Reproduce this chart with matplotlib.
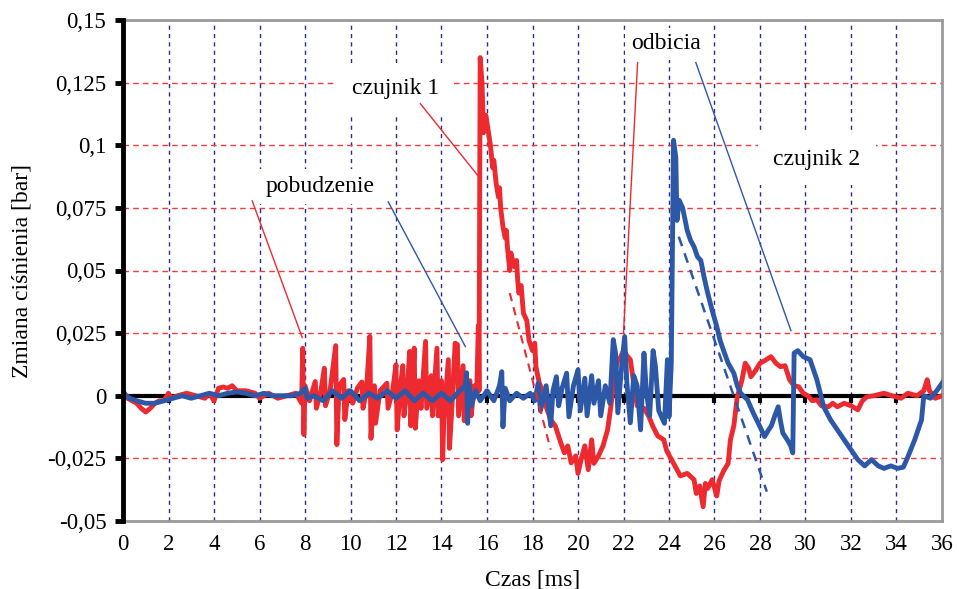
import matplotlib

matplotlib.use("Agg")
import matplotlib.pyplot as plt
from matplotlib.ticker import FixedFormatter, FixedLocator

plt.rcParams["font.family"] = ["Liberation Serif", "DejaVu Serif"]

# czujnik 1 (red)
t_red = [
    0.0, 0.2, 0.4, 0.6, 0.8, 1.0, 1.2, 1.4, 1.6, 1.8, 2.0, 2.1, 2.4, 2.8, 3.2, 3.6,
    3.8, 4.0, 4.2, 4.4, 4.6, 4.8, 5.0, 5.4, 5.8, 6.0, 6.4, 6.8, 7.2, 7.6, 7.85, 7.9,
    7.95, 8.0, 8.2, 8.45, 8.5, 8.7, 8.85, 8.9, 9.1, 9.35, 9.4, 9.5, 9.7, 9.75, 9.9,
    10.1, 10.3, 10.5, 10.55, 10.7, 10.85, 10.9, 11.05, 11.1, 11.3, 11.6, 11.65, 11.85,
    12.0, 12.05, 12.2, 12.3, 12.35, 12.5, 12.6, 12.65, 12.8, 12.85, 13.0, 13.1, 13.3,
    13.35, 13.55, 13.6, 13.8, 13.85, 14.0, 14.05, 14.1, 14.3, 14.35, 14.45, 14.6, 14.7,
    14.75, 14.95, 15.0, 15.15, 15.25, 15.3, 15.45, 15.55, 15.62, 15.65, 15.7, 15.78,
    15.85, 15.95, 16.05, 16.15, 16.25, 16.3, 16.4, 16.5, 16.55, 16.6, 16.7, 16.8, 16.85,
    16.9, 17.0, 17.05, 17.2, 17.3, 17.35, 17.4, 17.5, 17.6, 17.75, 17.85, 18.0, 18.1,
    18.15, 18.3, 18.5, 18.6, 18.8, 19.0, 19.2, 19.4, 19.55, 19.7, 19.9, 20.0, 20.15,
    20.3, 20.45, 20.6, 20.7, 20.9, 21.1, 21.3, 21.45, 21.6, 21.75, 21.85, 22.0, 22.15,
    22.3, 22.45, 22.6, 22.9, 23.1, 23.3, 23.5, 23.77, 23.9, 24.2, 24.5, 24.8, 25.1,
    25.2, 25.35, 25.5, 25.6, 25.7, 25.9, 26.1, 26.2, 26.4, 26.6, 26.7, 26.85, 27.0,
    27.2, 27.35, 27.5, 27.6, 27.8, 28.0, 28.2, 28.48, 28.7, 28.9, 29.1, 29.3, 29.5,
    29.7, 29.9, 30.1, 30.3, 30.5, 30.7, 31.0, 31.2, 31.4, 31.7, 32.0, 32.3, 32.5,
    32.7, 33.0, 33.45, 33.8, 34.2, 34.5, 34.9, 35.2, 35.35, 35.45, 35.7, 36.0,
]
p_red = [
    0.002, -0.001, -0.002, -0.003, -0.005, -0.0065, -0.005, -0.003, -0.002, -0.002,
    0.001, -0.001, 0.0, 0.001, 0.0, -0.001, 0.001, -0.002, 0.003, 0.0035, 0.003, 0.004,
    0.002, 0.002, 0.001, -0.001, 0.001, -0.001, 0.0, 0.001, -0.003, 0.019, -0.0155,
    0.004, -0.002, 0.0057, -0.005, 0.002, 0.011, -0.004, 0.002, 0.020, -0.0195, 0.004,
    0.0065, -0.0095, 0.002, -0.003, 0.003, 0.0055, -0.005, 0.002, 0.0237, -0.017,
    0.004, -0.011, 0.002, 0.005, -0.005, 0.002, 0.0124, -0.0136, 0.004, 0.012, -0.008,
    0.003, 0.0177, -0.012, 0.019, -0.013, 0.006, -0.005, 0.0217, -0.005, 0.008, -0.008,
    0.019, -0.008, 0.006, -0.0255, -0.010, 0.0144, -0.021, -0.006, 0.021, 0.0204,
    -0.008, 0.012, -0.010, 0.004, 0.006, -0.008, 0.004, 0.002, 0.028, 0.002, 0.135,
    0.125, 0.105, 0.112, 0.106, 0.100, 0.091, 0.094, 0.085, 0.0794, 0.083, 0.075,
    0.0675, 0.063, 0.066, 0.059, 0.050, 0.057, 0.0515, 0.054, 0.046, 0.041, 0.044,
    0.033, 0.030, 0.022, 0.018, 0.021, 0.0116, 0.005, 0.001, -0.0044, -0.0096, -0.012,
    -0.0176, -0.0228, -0.020, -0.0268, -0.024, -0.031, -0.025, -0.020, -0.0295,
    -0.0176, -0.027, -0.024, -0.020, -0.0136, -0.004, 0.008, 0.0144, 0.015, 0.018,
    0.016, 0.0144, 0.005, -0.004, -0.005, -0.008, -0.0124, -0.016, -0.0176, -0.022,
    -0.027, -0.032, -0.031, -0.0335, -0.039, -0.036, -0.0443, -0.035, -0.037, -0.0335,
    -0.040, -0.034, -0.030, -0.027, -0.0176, -0.012, -0.0004, 0.006, 0.013, 0.011,
    0.0076, 0.010, 0.013, 0.014, 0.0156, 0.013, 0.0116, 0.012, 0.0064, 0.004, 0.0036,
    0.001, 0.0, -0.002, -0.0016, -0.004, -0.0044, -0.003, -0.0044, -0.003, -0.004,
    -0.0056, -0.002, -0.0004, 0.0, 0.001, 0.0, -0.001, 0.001, 0.0, 0.002, 0.0064,
    0.002, -0.001, 0.0,
]

# czujnik 2 (blue)
t_blue = [
    0.0, 0.3, 0.6, 1.0, 1.4, 1.8, 2.2, 2.6, 3.0, 3.4, 3.8, 4.2, 4.6, 5.0, 5.4, 5.8,
    6.2, 6.6, 7.0, 7.4, 7.8, 8.0, 8.1, 8.4, 8.8, 9.2, 9.6, 10.0, 10.4, 10.8, 11.2,
    11.6, 12.0, 12.4, 12.8, 13.2, 13.6, 14.0, 14.4, 14.8, 15.05, 15.1, 15.15, 15.2,
    15.3, 15.5, 15.7, 16.0, 16.3, 16.55, 16.65, 16.7, 16.8, 17.0, 17.3, 17.6, 17.9,
    18.1, 18.25, 18.35, 18.6, 18.8, 18.9, 19.05, 19.15, 19.3, 19.5, 19.6, 19.8, 20.0,
    20.1, 20.3, 20.4, 20.6, 20.7, 20.9, 21.0, 21.2, 21.4, 21.55, 21.65, 21.75, 21.9,
    22.05, 22.15, 22.3, 22.45, 22.6, 22.75, 22.9, 23.0, 23.15, 23.3, 23.4, 23.55, 23.8,
    23.93, 24.0, 24.1, 24.2, 24.3, 24.35, 24.45, 24.6, 24.8, 24.95, 25.1, 25.25, 25.4,
    25.55, 25.7, 25.9, 26.1, 26.25, 26.4, 26.6, 26.85, 27.0, 27.15, 27.45, 27.7, 28.0,
    28.2, 28.35, 28.5, 28.65, 28.8, 28.9, 29.0, 29.2, 29.35, 29.44, 29.5, 29.66, 29.9,
    30.2, 30.5, 30.8, 31.1, 31.4, 31.7, 32.0, 32.3, 32.6, 32.9, 33.2, 33.45, 33.75,
    34.05, 34.3, 34.5, 34.8, 35.1, 35.2, 35.5, 35.8, 36.0,
]
p_blue = [
    0.001, -0.001, -0.002, -0.003, -0.003, -0.002, -0.001, 0.0, -0.001, 0.0, 0.001,
    0.0, 0.001, 0.0015, 0.001, 0.0, 0.001, 0.0, 0.0, 0.0, 0.001, 0.003, -0.001, 0.0,
    -0.002, 0.002, -0.001, 0.002, -0.002, 0.001, -0.001, 0.002, -0.001, 0.002, -0.002,
    0.001, -0.002, 0.001, -0.002, 0.002, 0.004, 0.0092, -0.011, 0.005, -0.004, 0.002,
    -0.002, 0.002, -0.002, 0.004, 0.0096, -0.0124, 0.003, -0.002, 0.001, -0.001,
    0.001, -0.002, 0.005, -0.006, 0.004, -0.012, 0.002, 0.0076, -0.004, 0.003, 0.009,
    -0.0084, 0.004, 0.0104, -0.006, 0.007, -0.008, 0.008, -0.003, 0.006, -0.008,
    0.004, -0.003, 0.0224, 0.017, -0.0068, 0.010, 0.0236, 0.005, -0.0108, 0.008,
    0.004, -0.0136, 0.017, 0.002, -0.008, 0.018, 0.012, -0.006, -0.011, 0.0144,
    -0.0084, 0.013, 0.102, 0.095, 0.070, 0.078, 0.075, 0.066, 0.062, 0.0595, 0.0555,
    0.054, 0.047, 0.041, 0.034, 0.0276, 0.022, 0.018, 0.013, 0.009, 0.004, 0.001,
    -0.0016, -0.0068, -0.0124, -0.0163, -0.014, -0.012, -0.008, -0.0044, -0.010,
    -0.0148, -0.0176, -0.020, -0.0228, 0.017, 0.018, 0.0156, 0.0144, 0.0064, -0.0044,
    -0.0096, -0.0136, -0.0176, -0.0216, -0.0255, -0.028, -0.0255, -0.028, -0.029,
    -0.028, -0.029, -0.0285, -0.0244, -0.0176, -0.0096, 0.0, -0.001, 0.0024, 0.005,
]

# dashed decay lines
fit_red_t = [17.0, 18.8]
fit_red_p = [0.041, -0.0215]
fit_blue_t = [24.43, 28.3]
fit_blue_p = [0.0635, -0.0383]

x_ticks = list(range(0, 37, 2))
y_ticks = [-0.05, -0.025, 0.0, 0.025, 0.05, 0.075, 0.1, 0.125, 0.15]
y_tick_labels = ["-0,05", "-0,025", "0", "0,025", "0,05", "0,075", "0,1", "0,125", "0,15"]

RED = "#ec2a30"
BLUE = "#2d58a8"

fig = plt.figure(figsize=(9.59, 5.89), dpi=100)
ax = fig.add_axes([123 / 959, 68 / 589, 819 / 959, 501 / 589])
ax.set_xlim(0, 36)
ax.set_ylim(-0.05, 0.15)

ax.xaxis.set_major_locator(FixedLocator(x_ticks))
ax.yaxis.set_major_locator(FixedLocator(y_ticks))
ax.yaxis.set_major_formatter(FixedFormatter(y_tick_labels))

ax.xaxis.grid(True, color="#2a2a96", ls=(0, (3, 3)), lw=1.0)
ax.yaxis.grid(True, color="#ee3b3b", ls=(0, (4, 3)), lw=1.0)

for side in ["top", "right", "bottom"]:
    ax.spines[side].set_color("#9a9a9a")
    ax.spines[side].set_linewidth(2)
ax.spines["left"].set_linewidth(3.5)
ax.spines["left"].set_zorder(6)

ax.tick_params(axis="y", direction="out", length=6, width=3.5, labelsize=16.5, pad=6)
ax.tick_params(axis="x", length=0, labelsize=16.5, pad=9)
ax.set_xlabel("Czas [ms]", fontsize=17, labelpad=11)
ax.set_ylabel("Zmiana ciśnienia [bar]", fontsize=17, labelpad=11)

# zero line with small ticks
ax.axhline(0, color="black", lw=3, zorder=2.5)
ax.plot(x_ticks[1:-1], [0] * len(x_ticks[1:-1]), ls="none", marker=3, ms=5, mew=3,
        color="black", zorder=2.5)

ax.plot(t_red, p_red, color=RED, lw=3.5, zorder=4)
ax.plot(t_blue, p_blue, color=BLUE, lw=3.5, zorder=5)

ax.plot(fit_red_t, fit_red_p, color=RED, lw=1.5, ls=(0, (4, 3)), zorder=5)
ax.plot(fit_blue_t, fit_blue_p, color=BLUE, lw=1.8, ls=(0, (4, 3)), zorder=6)

# labels and pointer lines
FS = 17
ax.text(11.97, 0.1225, "czujnik 1", fontsize=FS, ha="center", va="center",
        bbox=dict(facecolor="white", edgecolor="none", pad=11), zorder=3)
ax.text(8.67, 0.0835, "pobudzenie", fontsize=FS, ha="center", va="center",
        bbox=dict(facecolor="white", edgecolor="none", pad=5), zorder=3)
ax.text(23.86, 0.1405, "odbicia", fontsize=FS, ha="center", va="center",
        bbox=dict(facecolor="white", edgecolor="none", pad=4), zorder=3)
ax.text(30.5, 0.0945, "czujnik 2", fontsize=FS, ha="center", va="center",
        bbox=dict(facecolor="white", edgecolor="none", pad=11), zorder=3)

pointers = [
    ([5.68, 7.88], [0.0778, 0.0232], RED),
    ([11.66, 15.05], [0.0774, 0.0196], BLUE),
    ([13.07, 15.71], [0.1166, 0.0866], RED),
    ([22.62, 22.0], [0.133, 0.0251], RED),
    ([25.18, 29.36], [0.133, 0.026], BLUE),
]
for xs, ys, c in pointers:
    ax.plot(xs, ys, color=c, lw=1.0, zorder=7)

fig.savefig("out.png", dpi=100)
plt.close(fig)
